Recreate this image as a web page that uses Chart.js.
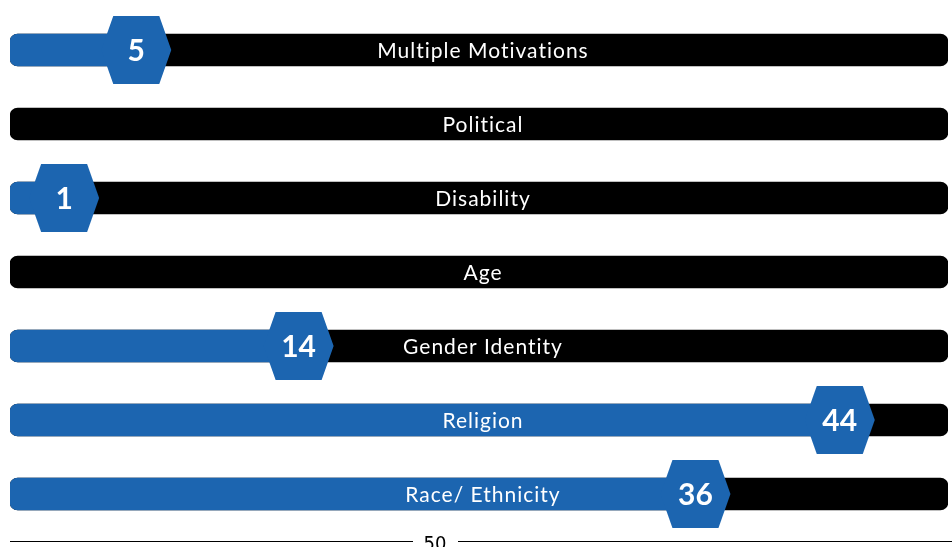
<!DOCTYPE html>
<html>
<head>
<meta charset="utf-8">
<script src="https://cdn.jsdelivr.net/npm/chart.js@4/dist/chart.umd.min.js"></script>
<style>
html,body{margin:0;padding:0;background:#fff;}
#wrap{width:952px;height:547px;position:relative;}
</style>
</head>
<body>
<div id="wrap"><canvas id="c" width="952" height="547"></canvas></div>
<script>
const categories = ["Multiple Motivations", "Political", "Disability", "Age", "Gender Identity", "Religion", "Race/ Ethnicity"];
const values = [5, 0, 1, 0, 14, 44, 36];
const maxValue = 50;
const axisStart = -2;
const pageNumber = "50";

const BLUE = "#1c65b0";
const BLACK = "#000000";

const overlay = {
  id: "overlay",
  afterDatasetsDraw(chart) {
    const ctx = chart.ctx;
    const xs = chart.scales.x, ys = chart.scales.y;
    const ca = chart.chartArea;
    ctx.save();
    // category labels
    ctx.fillStyle = "#ffffff";
    ctx.font = "21px Lato, 'Open Sans', sans-serif";
    ctx.letterSpacing = "1px";
    ctx.textAlign = "center";
    ctx.textBaseline = "middle";
    categories.forEach((c, i) => {
      const y = ys.getPixelForValue(i);
      ctx.fillText(c, (ca.left + ca.right) / 2 + 4, y + 1);
    });
    ctx.letterSpacing = "0px";
    // hexagons
    values.forEach((v, i) => {
      if (!v) return;
      const cx = xs.getPixelForValue(v);
      const cy = ys.getPixelForValue(i);
      const hw = 35, hh = 34, tw = 23;
      ctx.beginPath();
      ctx.moveTo(cx - hw, cy);
      ctx.lineTo(cx - tw, cy - hh);
      ctx.lineTo(cx + tw, cy - hh);
      ctx.lineTo(cx + hw, cy);
      ctx.lineTo(cx + tw, cy + hh);
      ctx.lineTo(cx - tw, cy + hh);
      ctx.closePath();
      ctx.fillStyle = BLUE;
      ctx.fill();
      ctx.fillStyle = "#ffffff";
      ctx.font = "bold 30px Lato, 'Open Sans', sans-serif";
      ctx.fillText(String(v), cx, cy + 1);
    });
    // footer
    ctx.strokeStyle = "#000";
    ctx.lineWidth = 1.2;
    ctx.beginPath();
    ctx.moveTo(10, 541.5); ctx.lineTo(413, 541.5);
    ctx.moveTo(458, 541.5); ctx.lineTo(952, 541.5);
    ctx.stroke();
    ctx.fillStyle = "#000";
    ctx.font = "20px 'Liberation Sans Narrow', 'DejaVu Sans Condensed', sans-serif";
    ctx.textAlign = "center";
    ctx.textBaseline = "alphabetic";
    ctx.fillText(pageNumber, 435, 550);
    ctx.restore();
  }
};

new Chart(document.getElementById("c"), {
  type: "bar",
  data: {
    labels: categories,
    datasets: [
      {
        data: values.map(v => v > 0 ? [axisStart, v] : null),
        backgroundColor: BLUE,
        borderRadius: 8,
        borderSkipped: false,
        barThickness: 32,
        grouped: false,
        order: 0
      },
      {
        data: categories.map(() => [axisStart, maxValue]),
        backgroundColor: BLACK,
        borderRadius: 8,
        borderSkipped: false,
        barThickness: 32,
        grouped: false,
        order: 1
      }
    ]
  },
  options: {
    indexAxis: "y",
    responsive: false,
    animation: false,
    layout: { padding: { left: 10, right: 4, top: 13, bottom: 16 } },
    scales: {
      x: { display: false, min: axisStart, max: maxValue },
      y: { display: false }
    },
    plugins: { legend: { display: false }, tooltip: { enabled: false } }
  },
  plugins: [overlay]
});
</script>
</body>
</html>
